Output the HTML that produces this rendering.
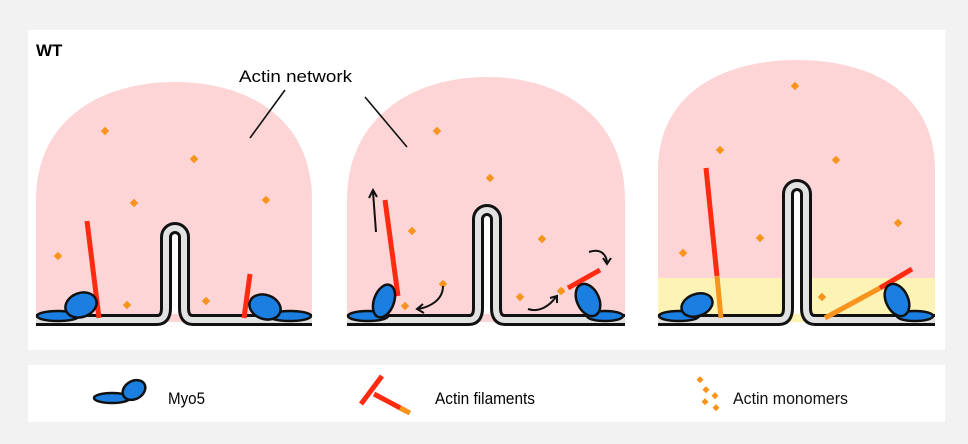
<!DOCTYPE html>
<html><head><meta charset="utf-8"><style>
body{margin:0;background:#f2f2f2;}
svg{display:block;font-family:"Liberation Sans",sans-serif;}
</style></head><body>
<svg width="968" height="444" viewBox="0 0 968 444">
<rect x="0" y="0" width="968" height="444" fill="#f2f2f2"/>
<rect x="28" y="30" width="917" height="320" fill="#fff"/>
<rect x="28" y="365" width="917" height="57" fill="#fff"/>
<text x="36" y="56" font-size="17" font-weight="bold">WT</text>

<g>
<path d="M36 322 L36 200 C36 120 100 82 175 82 C250 82 312 120 312 200 L312 322 Z" fill="#fdd5d6"/>
</g>
<g>
<path d="M347 322 L347 200 C347 118 412 77 487 77 C562 77 625 118 625 200 L625 322 Z" fill="#fdd5d6"/>
</g>
<g>
<path d="M658 322 L658 170 C658 95 720 60 797 60 C874 60 935 95 935 170 L935 322 Z" fill="#fdd5d6"/>
<rect x="658" y="278" width="277" height="44" fill="#fdf3b5"/>
</g>

<text x="239" y="82" font-size="17" textLength="113" lengthAdjust="spacingAndGlyphs">Actin network</text>
<line x1="285" y1="90" x2="250" y2="138" stroke="#111" stroke-width="1.6"/>
<line x1="365" y1="97" x2="407" y2="147" stroke="#111" stroke-width="1.6"/>

<g id="membranes"></g>

<g fill="#f7941d" id="mono"></g>

<g stroke-width="5" stroke-linecap="butt">
<line x1="87" y1="221" x2="99" y2="318" stroke="#ff2a10"/>
<line x1="250" y1="274" x2="244" y2="318" stroke="#ff2a10"/>
<line x1="385" y1="200" x2="398" y2="296" stroke="#ff2a10"/>
<line x1="568" y1="288" x2="600" y2="270" stroke="#ff2a10"/>
<line x1="560" y1="292" x2="564" y2="290" stroke="#f7941d" stroke-width="5"/>
<line x1="706" y1="168" x2="717" y2="276" stroke="#ff2a10"/>
<line x1="717" y1="276" x2="721" y2="318" stroke="#f7941d"/>
<line x1="825" y1="318" x2="880" y2="288" stroke="#f7941d"/>
<line x1="880" y1="288" x2="912" y2="269" stroke="#ff2a10"/>
</g>

<g fill="#1a7fe0" stroke="#111" stroke-width="2.5">
<ellipse cx="58" cy="316" rx="21" ry="5"/><ellipse cx="81" cy="305" rx="16" ry="12" transform="rotate(-20 81 305)"/>
<ellipse cx="290" cy="316" rx="21" ry="5"/><ellipse cx="265" cy="307" rx="16" ry="12" transform="rotate(20 265 307)"/>
<ellipse cx="368" cy="316" rx="20" ry="5"/><ellipse cx="384" cy="301" rx="10" ry="17" transform="rotate(20 384 301)"/>
<ellipse cx="605" cy="316" rx="18" ry="5"/><ellipse cx="588" cy="300" rx="11" ry="17" transform="rotate(-25 588 300)"/>
<ellipse cx="679" cy="316" rx="20" ry="5"/><ellipse cx="697" cy="305" rx="16" ry="11" transform="rotate(-20 697 305)"/>
<ellipse cx="915" cy="316" rx="18" ry="5"/><ellipse cx="897" cy="300" rx="11" ry="17" transform="rotate(-25 897 300)"/>
</g>

<g stroke="#111" stroke-width="2" fill="none">
<line x1="376" y1="232" x2="373" y2="192"/><path d="M369 198 L373 190 L377 197"/>
<path d="M443 286 C443 300 430 307 418 309"/><path d="M423 304 L417 309 L424 313"/>
<path d="M528 309 C540 313 550 305 556 297"/><path d="M550 298 L557 296 L557 303"/>
<path d="M589 252 C600 248 606 254 607 262"/><path d="M603 258 L607 264 L611 258"/>
</g>

<g>
<ellipse cx="112" cy="398" rx="18" ry="5" fill="#1a7fe0" stroke="#111" stroke-width="2.5"/>
<ellipse cx="134" cy="390" rx="12" ry="9" transform="rotate(-30 134 390)" fill="#1a7fe0" stroke="#111" stroke-width="2.5"/>
<text x="168" y="404" font-size="17" textLength="37" lengthAdjust="spacingAndGlyphs">Myo5</text>
</g>
<g>
<line x1="382" y1="376" x2="361" y2="404" stroke="#ff2a10" stroke-width="5"/>
<line x1="374" y1="394" x2="406" y2="411" stroke="#ff2a10" stroke-width="5"/>
<line x1="400" y1="408" x2="410" y2="413" stroke="#f7941d" stroke-width="5"/>
<text x="435" y="404" font-size="17" textLength="100" lengthAdjust="spacingAndGlyphs">Actin filaments</text>
</g>
<g fill="#f7941d">
<rect x="698" y="377" width="5" height="5" transform="rotate(45 700 379)"/>
<rect x="704" y="387" width="5" height="5" transform="rotate(45 706 389)"/>
<rect x="713" y="393" width="5" height="5" transform="rotate(45 715 395)"/>
<rect x="703" y="399" width="5" height="5" transform="rotate(45 705 401)"/>
<rect x="714" y="405" width="5" height="5" transform="rotate(45 716 407)"/>
<text x="733" y="404" font-size="17" fill="#111" textLength="115" lengthAdjust="spacingAndGlyphs">Actin monomers</text>
</g>
</svg>
<script>
var NS='http://www.w3.org/2000/svg';
var mem=document.getElementById('membranes');
var panels=[[36,312,175,228],[347,625,487,210],[658,935,797,185]];
var y=320;
panels.forEach(function(p,i){
  var x0=p[0],x1=p[1],c=p[2],t=p[3];
  var d='M'+x0+' '+y+' L'+(c-18)+' '+y+' Q'+(c-9)+' '+y+' '+(c-9)+' '+(y-12)+' L'+(c-9)+' '+(t+9)+' A9 9 0 0 1 '+(c+9)+' '+(t+9)+' L'+(c+9)+' '+(y-12)+' Q'+(c+9)+' '+y+' '+(c+18)+' '+y+' L'+x1+' '+y;
  var g=document.createElementNS(NS,'g');
  
  
  var w=document.createElementNS(NS,'line');
  w.setAttribute('x1',c);w.setAttribute('x2',c);w.setAttribute('y1',t+6);w.setAttribute('y2',y-6);
  w.setAttribute('stroke','#fff');w.setAttribute('stroke-width','6');
  g.appendChild(w);
  [['#111',12],['#e2e2e2',6]].forEach(function(s){
    var pa=document.createElementNS(NS,'path');
    pa.setAttribute('d',d);pa.setAttribute('fill','none');
    pa.setAttribute('stroke',s[0]);pa.setAttribute('stroke-width',s[1]);
    g.appendChild(pa);
  });
  mem.appendChild(g);
});
var monos=[[105,131],[194,159],[134,203],[266,200],[58,256],[127,305],[206,301],[437,131],[490,178],[412,231],[542,239],[443,284],[405,306],[520,297],[561,291],[795,86],[720,150],[836,160],[683,253],[760,238],[898,223],[822,297]];
var mg=document.getElementById('mono');
monos.forEach(function(m){
  var r=document.createElementNS(NS,'rect');
  r.setAttribute('x',m[0]-3);r.setAttribute('y',m[1]-3);r.setAttribute('width',6);r.setAttribute('height',6);
  r.setAttribute('transform','rotate(45 '+m[0]+' '+m[1]+')');
  
  
  mg.appendChild(r);
});
</script>
</body></html>
